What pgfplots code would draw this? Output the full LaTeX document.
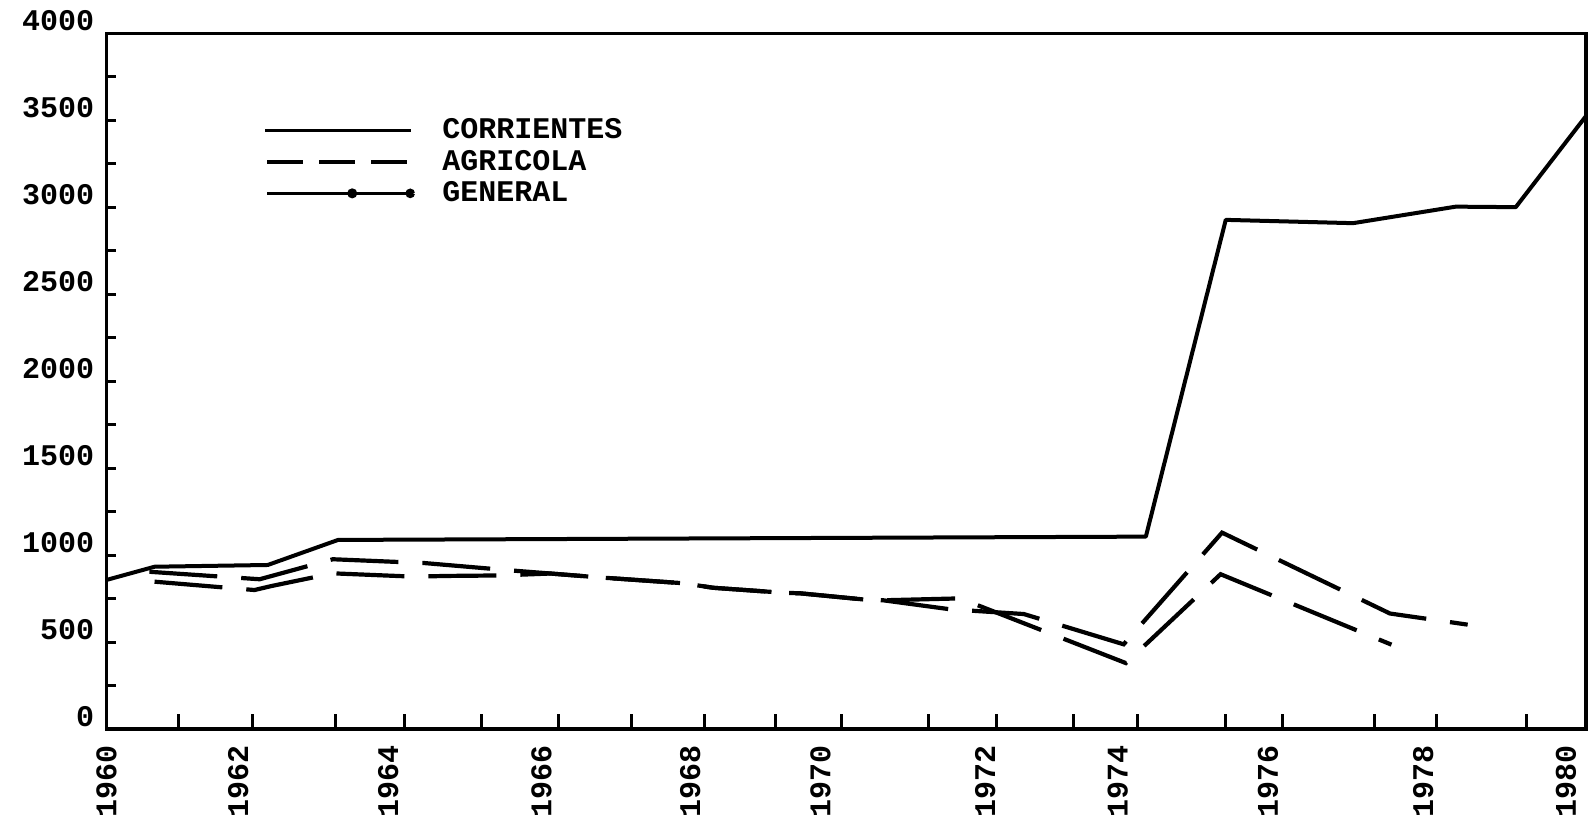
\documentclass[border=0pt]{standalone}
\usepackage{fontspec}
\setmainfont{Liberation Mono}
\usepackage{pgfplots}
\pgfplotsset{compat=1.18}
\pgfplotstableread{
x y
1960.00 858
1960.65 934
1962.18 944
1963.13 1088
1974.05 1107
1975.13 2928
1976.85 2909
1978.24 3004
1979.05 3001
1980.00 3525
}\corrientes
\pgfplotstableread{
x y
1960.58 905
1962.07 862
1963.06 977
1964.30 955
1965.40 915
1966.00 895
1966.65 873
1967.80 839
1968.20 813
1969.13 785
1969.38 781
1970.30 743
1970.50 741
1971.41 689
1972.40 662
1973.75 488
1975.08 1130
1977.35 665
1978.40 601
}\agricola
\pgfplotstableread{
x y
1960.65 848
1962.00 800
1962.23 823
1963.06 896
1964.15 877
1964.60 881
1965.35 884
1966.00 895
1966.65 873
1967.80 839
1968.20 813
1969.13 785
1969.38 781
1970.30 743
1970.50 741
1971.54 752
1973.78 380
1975.06 891
1977.37 486
}\general
\begin{document}
\begin{tikzpicture}
\begin{axis}[
  width=739.75pt, height=347.9pt, scale only axis,
  xmin=1960, xmax=1980, ymin=0, ymax=4000,
  axis line style={line width=1.8pt},
  tick align=inside, xtick pos=bottom, ytick pos=left,
  tick style={line width=1.5pt, black},
  major tick length=5pt,
  minor tick length=7.5pt,
  xtick={1960, 1961.78, 1963.81, 1965.88, 1967.89, 1969.65, 1971.88, 1973.67, 1975.70, 1977.80, 1979.73},
  xticklabels={1960,1962,1964,1966,1968,1970,1972,1974,1976,1978,1980},
  every major x tick/.append style={draw=none},
  minor xtick={1960.97, 1961.98, 1963.09, 1964.03, 1965.07, 1966.11, 1967.10, 1968.09, 1969.04, 1969.94, 1971.11, 1972.03, 1973.07, 1973.94, 1975.12, 1975.90, 1977.14, 1977.98, 1979.19},
  ytick={0,250,...,4000},
  yticklabels={0,,500,,1000,,1500,,2000,,2500,,3000,,3500,,4000},
  tick label style={font=\bfseries\fontsize{15}{18}\selectfont},
  yticklabel style={yshift=6.5pt, xshift=-6pt, inner sep=0pt, anchor=east},
  xticklabel style={yshift=-8pt, rotate=90, anchor=east, inner sep=0pt},
  legend style={at={(0.1058,0.882)}, anchor=north west, draw=none, fill=none,
    inner sep=0pt, font=\bfseries\fontsize{15}{18}\selectfont, row sep=1.2pt,
    nodes={inner sep=1.5pt}},
  legend cell align=left,
]
\addplot[black, line width=2pt, line join=round,
  legend image code/.code={\draw[black, solid, line width=1.8pt] (0pt,0pt) -- (73pt,0pt); \path (86pt,0pt);}]
  table[x=x,y=y] {\corrientes};
\addlegendentry{CORRIENTES}
\addplot[black, line width=2.1pt, dash pattern=on 34pt off 12pt,
  legend image code/.code={\draw[black, line width=1.8pt, dash pattern=on 18pt off 8pt] (1pt,0pt) -- (72pt,0pt); \path (86pt,0pt);}]
  table[x=x,y=y] {\agricola};
\addlegendentry{AGRICOLA}
\addplot[black, line width=2.1pt, dash pattern=on 34pt off 12pt,
  legend image code/.code={\draw[black, solid, line width=1.8pt] (1pt,0pt) -- (42pt,0pt); \draw[black, solid, line width=1.8pt] (45pt,0pt) -- (72pt,0pt);
    \fill[black] (43.5pt,0pt) circle (1.4pt); \fill[black] (72.5pt,0pt) circle (1.3pt); \path (86pt,0pt);}]
  table[x=x,y=y] {\general};
\addlegendentry{GENERAL}
\end{axis}
\pgfresetboundingbox
\useasboundingbox ([xshift=-53.25pt,yshift=-54.4pt]current axis.south west) rectangle ([xshift=1pt,yshift=16.7pt]current axis.north east);
\end{tikzpicture}
\end{document}
